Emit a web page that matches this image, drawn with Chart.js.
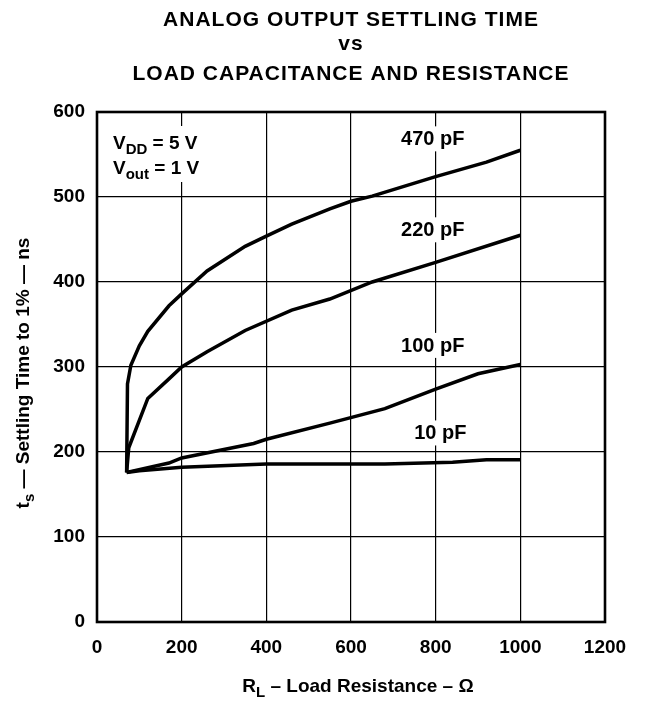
<!DOCTYPE html>
<html>
<head>
<meta charset="utf-8">
<script src="https://cdn.jsdelivr.net/npm/chart.js@4"></script>
<style>
  html, body { margin: 0; padding: 0; background: #fff; }
  #wrap { width: 647px; height: 702px; }
</style>
</head>
<body>
<div id="wrap"><canvas id="settleChart" width="647" height="702"></canvas></div>
<script>
// values: load resistance (ohm) vs settling time (ns)
const r10 = [70, 100, 200, 400, 680, 840, 920, 1000];
const t10 = [176, 178, 182, 186, 186, 188, 191, 191];
const r100 = [70, 170, 200, 370, 400, 550, 680, 800, 900, 1000];
const t100 = [176, 187, 193, 210, 215, 234, 251, 274, 292, 303];
const r220 = [70, 75, 120, 170, 200, 260, 350, 460, 550, 650, 800, 1000];
const t220 = [176, 205, 263, 286, 300, 318, 343, 367, 380, 400, 423, 455];
const r470 = [70, 72, 80, 100, 120, 170, 200, 260, 350, 400, 460, 550, 600, 650, 800, 920, 1000];
const t470 = [176, 280, 302, 325, 342, 372, 386, 413, 442, 454, 468, 486, 495, 501, 524, 541, 555];

const seriesNames = ['10 pF', '100 pF', '220 pF', '470 pF'];
// where each curve name sits (data coords)
const labelX = [811, 793, 793, 793];
const labelY = [223, 326, 462, 569];

const xTicks = [0, 200, 400, 600, 800, 1000, 1200];
const yTicks = [0, 100, 200, 300, 400, 500, 600];

const FONT = '"Liberation Sans", Arial, Helvetica, sans-serif';

function pts(xs, ys) {
  return xs.map((x, i) => ({ x: x, y: ys[i] }));
}

// text with a subscript piece, drawn left to right from x
function subText(ctx, parts, x, y, size) {
  parts.forEach(p => {
    const fs = p.sub ? Math.round(size * 0.78) : size;
    ctx.font = 'bold ' + fs + 'px ' + FONT;
    ctx.fillText(p.t, x, y + (p.sub ? size * 0.28 : 0));
    x += ctx.measureText(p.t).width;
  });
  return x;
}
function subWidth(ctx, parts, size) {
  let w = 0;
  parts.forEach(p => {
    const fs = p.sub ? Math.round(size * 0.78) : size;
    ctx.font = 'bold ' + fs + 'px ' + FONT;
    w += ctx.measureText(p.t).width;
  });
  return w;
}

const decor = {
  id: 'decor',
  beforeDatasetsDraw(chart) {
    const ctx = chart.ctx;
    const xs = chart.scales.x, ys = chart.scales.y;
    ctx.save();
    ctx.fillStyle = '#000';
    ctx.textBaseline = 'alphabetic';
    // curve names, white behind so the grid breaks
    ctx.font = 'bold 20px ' + FONT;
    ctx.textAlign = 'center';
    seriesNames.forEach((n, i) => {
      const px = xs.getPixelForValue(labelX[i]);
      const py = ys.getPixelForValue(labelY[i]);
      const w = ctx.measureText(n).width;
      ctx.fillStyle = '#fff';
      ctx.fillRect(px - w / 2 - 3, py - 12, w + 6, 25);
      ctx.fillStyle = '#000';
      ctx.fillText(n, px, py + 7);
    });
    // conditions box
    ctx.textAlign = 'left';
    const l1 = [{ t: 'V' }, { t: 'DD', sub: true }, { t: ' = 5 V' }];
    const l2 = [{ t: 'V' }, { t: 'out', sub: true }, { t: ' = 1 V' }];
    ctx.fillStyle = '#fff';
    ctx.fillRect(110, 126, Math.max(subWidth(ctx, l1, 19), subWidth(ctx, l2, 19)) + 6, 56);
    ctx.fillStyle = '#000';
    subText(ctx, l1, 113, 149, 19);
    subText(ctx, l2, 113, 174, 19);
    ctx.restore();
  },
  afterDraw(chart) {
    const ctx = chart.ctx;
    const a = chart.chartArea;
    ctx.save();
    // heavy frame
    ctx.strokeStyle = '#000';
    ctx.lineWidth = 2.6;
    ctx.strokeRect(a.left, a.top, a.right - a.left, a.bottom - a.top);
    // titles
    ctx.fillStyle = '#000';
    ctx.textAlign = 'center';
    ctx.font = 'bold 21px ' + FONT;
    ctx.letterSpacing = '1px';
    const cx = (a.left + a.right) / 2;
    ctx.fillText('ANALOG OUTPUT SETTLING TIME', cx, 26);
    ctx.fillText('vs', cx, 50);
    ctx.fillText('LOAD CAPACITANCE AND RESISTANCE', cx, 80);
    ctx.letterSpacing = '0px';
    // x axis title
    ctx.textAlign = 'left';
    const xt = [{ t: 'R' }, { t: 'L', sub: true }, { t: ' \u2013 Load Resistance \u2013 \u03A9' }];
    const xw = subWidth(ctx, xt, 19);
    subText(ctx, xt, 358 - xw / 2, 692, 19);
    // y axis title, rotated
    const yt = [{ t: 't' }, { t: 's', sub: true }, { t: ' \u2014 Settling Time to 1% \u2014 ns' }];
    const yw = subWidth(ctx, yt, 19);
    ctx.translate(29, 373);
    ctx.rotate(-Math.PI / 2);
    subText(ctx, yt, -yw / 2, 0, 19);
    ctx.restore();
  }
};

const lineStyle = {
  borderColor: '#000',
  borderWidth: 3.5,
  pointRadius: 0,
  tension: 0,
  fill: false
};

const ctx = document.getElementById('settleChart').getContext('2d');
new Chart(ctx, {
  type: 'line',
  data: {
    datasets: [
      Object.assign({ label: seriesNames[0], data: pts(r10, t10) }, lineStyle),
      Object.assign({ label: seriesNames[1], data: pts(r100, t100) }, lineStyle),
      Object.assign({ label: seriesNames[2], data: pts(r220, t220) }, lineStyle),
      Object.assign({ label: seriesNames[3], data: pts(r470, t470) }, lineStyle)
    ]
  },
  options: {
    responsive: false,
    animation: false,
    layout: { padding: { top: 112, right: 42, left: 0, bottom: 0 } },
    plugins: { legend: { display: false }, tooltip: { enabled: false } },
    scales: {
      x: {
        type: 'linear',
        min: 0, max: 1200,
        afterBuildTicks: s => { s.ticks = xTicks.map(v => ({ value: v })); },
        afterFit: s => { s.height = 80; },
        grid: { color: '#000', lineWidth: 1.2, drawTicks: false },
        border: { display: false },
        ticks: { color: '#000', padding: 14, maxRotation: 0, callback: v => String(v), font: { family: FONT, size: 19, weight: 'bold' } }
      },
      y: {
        type: 'linear',
        min: 0, max: 600,
        afterBuildTicks: s => { s.ticks = yTicks.map(v => ({ value: v })); },
        afterFit: s => { s.width = 97; },
        grid: { color: '#000', lineWidth: 1.2, drawTicks: false },
        border: { display: false },
        ticks: { color: '#000', padding: 12, callback: v => String(v), font: { family: FONT, size: 19, weight: 'bold' } }
      }
    }
  },
  plugins: [decor]
});
</script>
</body>
</html>
